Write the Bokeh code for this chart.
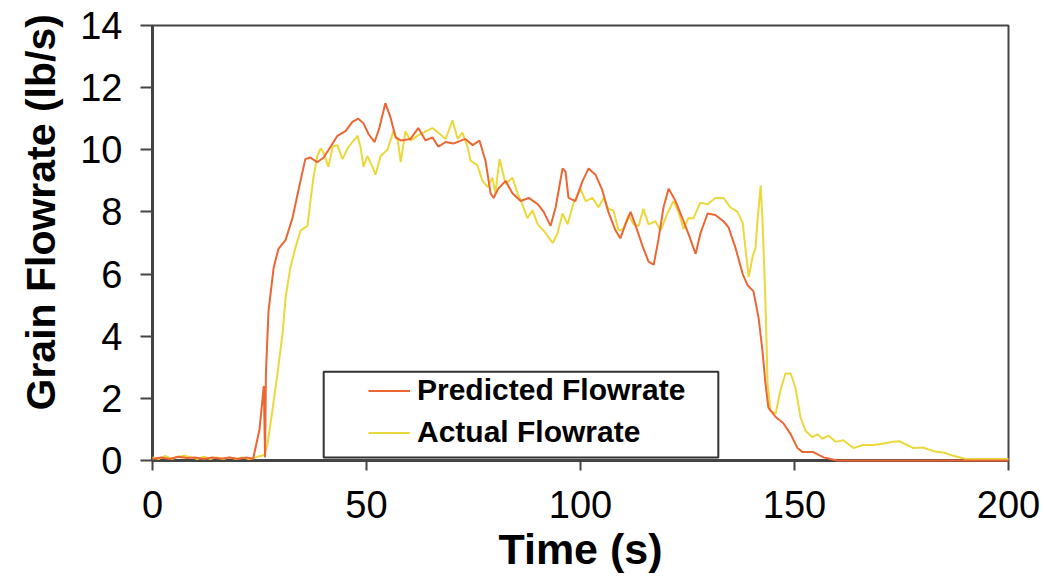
from bokeh.plotting import figure
from bokeh.models import Range1d, Legend, LegendItem, BoxAnnotation, Title, FixedTicker
from bokeh.embed import file_html
from bokeh.resources import INLINE

# ---- data ----
pred_t = [0, 2, 4, 6, 8, 10, 12, 14, 16, 18, 20, 22, 23.5, 25.0, 26.0, 26.3, 26.5, 27.1,
          28.3, 29.4, 31.1, 32.7, 34.1, 35.7, 36.9, 38.5, 40.0, 41.6, 43.2, 45.1, 46.7,
          48.1, 49.3, 50.5, 51.9, 53.0, 54.4, 55.6, 56.8, 58.0, 60.3, 62.1, 63.8, 65.4,
          66.8, 68.5, 70.3, 73.1, 74.8, 76.4, 77.8, 79.0, 79.7, 80.8, 82.5, 84.1, 86.0,
          87.9, 90.0, 91.4, 93.0, 94.2, 95.8, 96.5, 97.2, 98.8, 100.5, 101.9, 103.5,
          105.1, 106.5, 108.2, 109.3, 110.5, 111.7, 112.9, 114.5, 115.9, 117.1, 118.2,
          119.4, 120.6, 122.2, 123.8, 125.2, 126.9, 128.0, 129.7, 131.5, 133.4, 134.6,
          136.2, 137.9, 139.0, 140.4, 141.6, 142.5, 143.2, 143.9, 145.6, 147.4, 149.1,
          150.7, 151.9, 154.4, 156.8, 158.4, 160, 180, 200]
pred_v = [0.05, 0.1, 0.05, 0.12, 0.08, 0.1, 0.05, 0.1, 0.06, 0.1, 0.05, 0.1, 0.05, 1.0,
          2.4, 0.1, 2.8, 4.8, 6.2, 6.8, 7.1, 7.8, 8.7, 9.7, 9.75, 9.6, 9.75, 10.1, 10.45,
          10.6, 10.9, 11.0, 10.85, 10.5, 10.25, 10.7, 11.5, 11.05, 10.4, 10.3, 10.35,
          10.7, 10.3, 10.4, 10.1, 10.25, 10.2, 10.35, 10.15, 10.3, 9.65, 8.6, 8.45, 8.75,
          9.0, 8.6, 8.35, 8.45, 8.25, 8.0, 7.55, 8.15, 9.4, 9.3, 8.45, 8.35, 9.0, 9.4,
          9.2, 8.7, 8.0, 7.4, 7.15, 7.6, 8.0, 7.55, 6.9, 6.4, 6.3, 7.1, 8.15, 8.75, 8.35,
          7.8, 7.3, 6.65, 7.3, 7.95, 7.9, 7.7, 7.5, 6.85, 6.0, 5.65, 5.45, 4.6, 3.55, 2.5,
          1.7, 1.4, 1.2, 0.85, 0.4, 0.27, 0.27, 0.1, 0.05, 0.0, 0.0, 0.0]

act_t = [0, 1.5, 3, 4.5, 6, 7.5, 9, 10.5, 12, 13.5, 15, 16.5, 18, 19.5, 21, 22.5, 24,
         25.5, 26.2, 26.9, 28.0, 29.2, 30.4, 31.1, 32.2, 33.4, 34.6, 36.2, 36.9, 37.6,
         38.5, 39.3, 40.0, 41.1, 42.1, 43.2, 44.4, 45.6, 46.7, 47.9, 48.6, 49.3, 50.2,
         51.4, 52.1, 53.3, 54.9, 56.3, 57.3, 58.0, 59.1, 60.3, 61.9, 63.3, 65.4, 66.8,
         68.5, 70.1, 71.3, 72.4, 73.6, 74.3, 75.9, 77.1, 78.3, 79.4, 80.1, 81.1, 82.5,
         84.1, 85.3, 86.4, 87.6, 88.8, 90.0, 91.4, 93.5, 94.6, 95.8, 97.0, 98.4, 100.0,
         101.2, 102.8, 104.2, 105.4, 106.5, 107.7, 108.9, 110.0, 111.2, 112.4, 113.6,
         114.7, 115.9, 117.5, 118.7, 120.3, 121.7, 122.9, 124.1, 125.2, 126.4, 128.0,
         129.7, 131.5, 133.4, 135.0, 136.7, 137.9, 138.6, 139.3, 140.2, 140.9, 141.4,
         142.1, 142.5, 143.2, 143.7, 144.4, 145.6, 146.7, 147.9, 149.1, 150.2, 151.4,
         152.6, 154.2, 155.4, 156.5, 158.0, 159.6, 161.4, 163.8, 166.1, 168.5, 170.8,
         173.1, 174.5, 177.8, 180, 182.5, 185, 187.1, 190, 195, 200]
act_v = [0.1, 0.05, 0.15, 0.05, 0.12, 0.15, 0.1, 0.05, 0.12, 0.05, 0.1, 0.05, 0.1, 0.05,
         0.1, 0.05, 0.1, 0.15, 0.2, 0.55, 1.6, 2.8, 4.1, 5.25, 6.2, 6.85, 7.4, 7.55, 8.35,
         9.1, 9.8, 10.05, 9.9, 9.45, 10.1, 10.15, 9.7, 10.05, 10.25, 10.45, 10.1, 9.45,
         9.8, 9.45, 9.2, 9.8, 10.0, 10.6, 10.3, 9.6, 10.6, 10.3, 10.45, 10.55, 10.7,
         10.55, 10.35, 10.95, 10.35, 10.55, 10.1, 9.65, 9.5, 9.0, 8.8, 9.1, 8.6, 9.7,
         8.9, 9.1, 8.6, 8.25, 7.8, 8.05, 7.6, 7.4, 7.0, 7.3, 7.95, 7.6, 8.3, 8.75, 8.35,
         8.45, 8.15, 8.45, 8.1, 8.05, 7.4, 7.45, 7.9, 7.6, 7.55, 8.1, 7.6, 7.7, 7.4, 7.95,
         8.35, 8.0, 7.45, 7.8, 7.8, 8.3, 8.25, 8.45, 8.45, 8.15, 8.0, 7.65, 6.75, 5.9,
         6.55, 6.85, 7.8, 8.85, 7.8, 5.15, 2.5, 1.6, 1.5, 2.25, 2.8, 2.8, 2.35, 1.4, 0.95,
         0.75, 0.85, 0.7, 0.8, 0.6, 0.65, 0.4, 0.5, 0.5, 0.55, 0.6, 0.62, 0.4, 0.42, 0.3,
         0.25, 0.15, 0.05, 0.05, 0.05]

x_ticks = [0, 50, 100, 150, 200]
y_ticks = [0, 2, 4, 6, 8, 10, 12, 14]
series_labels = ["Predicted Flowrate", "Actual Flowrate"]
x_title = "Time (s)"
y_title = "Grain Flowrate (lb/s)"

PRED_COLOR = "#EC6634"
ACT_COLOR = "#EBD83C"
AXIS_COLOR = "#444444"
FONT = "Liberation Sans"

p = figure(width=1044, height=579, output_backend="svg", toolbar_location=None,
           title=None, x_range=Range1d(0, 200), y_range=Range1d(0, 14),
           min_border_left=152, min_border_right=36, min_border_top=25,
           min_border_bottom=119)

p.xgrid.visible = False
p.ygrid.visible = False
p.outline_line_color = AXIS_COLOR
p.outline_line_width = 2
p.background_fill_color = "white"

r_act = p.line(act_t, act_v, line_color=ACT_COLOR, line_width=2)
r_pred = p.line(pred_t, pred_v, line_color=PRED_COLOR, line_width=2)
r_act.level = "overlay"
r_pred.level = "overlay"

for ax in (p.xaxis[0], p.yaxis[0]):
    ax.axis_line_color = AXIS_COLOR
    ax.axis_line_width = 3
    ax.major_tick_line_color = AXIS_COLOR
    ax.major_tick_line_width = 2
    ax.minor_tick_line_color = None
    ax.major_tick_in = 0
    ax.major_label_text_font = FONT
    ax.major_label_text_font_size = "38px"
    ax.major_label_text_color = "black"

p.xaxis[0].ticker = FixedTicker(ticks=x_ticks)
p.yaxis[0].ticker = FixedTicker(ticks=y_ticks)
p.xaxis[0].major_tick_out = 10
p.yaxis[0].major_tick_out = 12
p.xaxis[0].major_label_standoff = 20
p.yaxis[0].major_label_standoff = 18

p.xaxis[0].axis_label = x_title
p.xaxis[0].axis_label_text_font = FONT
p.xaxis[0].axis_label_text_font_size = "43px"
p.xaxis[0].axis_label_text_font_style = "bold"
p.xaxis[0].axis_label_text_color = "black"
p.xaxis[0].axis_label_standoff = 4

ytitle = Title(text=y_title, align="left", offset=50, text_font=FONT,
               text_font_size="41px", text_font_style="bold", text_color="black",
               standoff=28)
p.add_layout(ytitle, "left")

box = BoxAnnotation(left=40, right=132.2, bottom=0.1, top=2.86, fill_color="white",
                    fill_alpha=1, line_color="#333333", line_alpha=1, line_width=2)
p.add_layout(box)

legend = Legend(items=[LegendItem(label=series_labels[0], renderers=[r_pred]),
                       LegendItem(label=series_labels[1], renderers=[r_act])],
                location=(216, 11), padding=0, margin=0, spacing=8,
                label_height=33, glyph_height=33, glyph_width=42, label_standoff=7,
                label_text_font=FONT, label_text_font_size="30px",
                label_text_font_style="bold", label_text_color="black",
                border_line_alpha=0, background_fill_alpha=0)
p.add_layout(legend, "center")

open("out.html", "w").write(file_html(p, INLINE))
